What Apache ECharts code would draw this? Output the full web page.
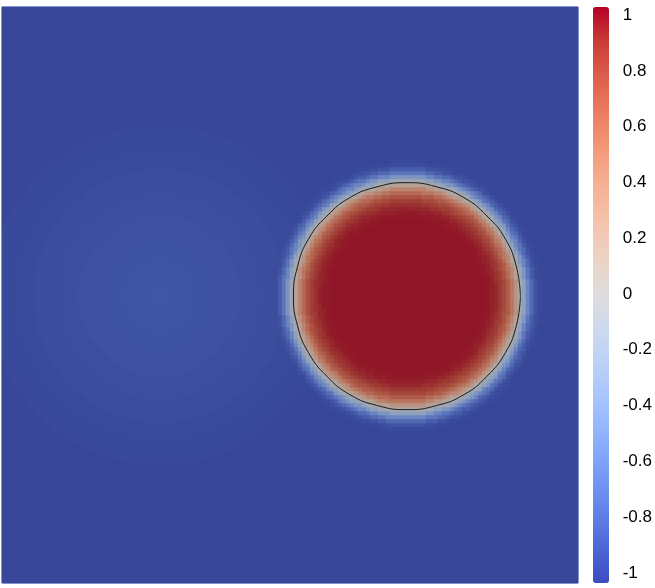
<!DOCTYPE html>
<html>
<head>
<meta charset="utf-8">
<script src="https://cdn.jsdelivr.net/npm/echarts@6/dist/echarts.min.js"></script>
<style>
  html, body { margin: 0; padding: 0; background: #fff; }
  #chart { width: 655px; height: 588px; }
</style>
</head>
<body>
<div id="chart"></div>
<script>
// field (domain is the unit square, y up)
const dropCenter = [0.703, 0.498];
const dropRadius = 0.197;
// signed distance from the droplet contour (negative = inside) and value there
const dropOffset = [-0.066, -0.055, -0.048, -0.043, -0.038, -0.035, -0.031, -0.028, -0.024, -0.021, -0.017, -0.014, -0.010, -0.007, -0.0035, 0, 0.0035, 0.007, 0.010, 0.014, 0.017, 0.021, 0.024, 0.028, 0.031, 0.035, 0.042];
const dropValue = [1.0, 0.99, 0.97, 0.95, 0.92, 0.89, 0.86, 0.81, 0.76, 0.70, 0.62, 0.53, 0.42, 0.30, 0.15, 0, -0.10, -0.25, -0.40, -0.55, -0.68, -0.78, -0.86, -0.92, -0.96, -0.98, -1.0];
// faint lighter patch on the left
const blobCenter = [0.275, 0.5];
const blobDist = [0, 0.04, 0.08, 0.12, 0.16, 0.20, 0.24, 0.28, 0.31];
const blobValue = [-0.91, -0.915, -0.922, -0.932, -0.945, -0.958, -0.972, -0.986, -1.0];
// contour line at 0
const contourX = [0.900, 0.893, 0.874, 0.842, 0.802, 0.754, 0.703, 0.652, 0.604, 0.564, 0.532, 0.513, 0.506, 0.513, 0.532, 0.564, 0.604, 0.652, 0.703, 0.754, 0.802, 0.842, 0.874, 0.893, 0.900];
const contourY = [0.498, 0.549, 0.597, 0.637, 0.669, 0.688, 0.695, 0.688, 0.669, 0.637, 0.597, 0.549, 0.498, 0.447, 0.400, 0.359, 0.327, 0.308, 0.301, 0.308, 0.327, 0.359, 0.400, 0.447, 0.498];
// colour bar
const rangeMin = -1.036;
const rangeMax = 1.029;
const tickValues = [-1, -0.8, -0.6, -0.4, -0.2, 0, 0.2, 0.4, 0.6, 0.8, 1];

// cool to warm
const coolWarm = [
  [59,76,192],[77,104,215],[98,130,234],[119,154,247],[141,176,254],[163,194,255],
  [184,208,249],[204,217,238],[221,221,221],[236,211,197],[245,196,173],[247,177,148],
  [244,154,123],[236,127,99],[222,96,77],[203,62,56],[180,4,38]
];
// surface looks lit/darker than the bar
const toCss = (c, k, a) => 'rgb(' + c.map(v => Math.round(v * k + a)).join(',') + ')';

function nearest(xs, ys, v) {
  if (v <= xs[0]) return ys[0];
  if (v >= xs[xs.length - 1]) return ys[ys.length - 1];
  let best = 0;
  for (let i = 1; i < xs.length; i++) {
    if (Math.abs(xs[i] - v) < Math.abs(xs[best] - v)) best = i;
  }
  return ys[best];
}

const N = 144;
const cats = [];
for (let i = 0; i < N; i++) cats.push(i);
const cells = [];
for (let i = 0; i < N; i++) {
  for (let j = 0; j < N; j++) {
    const x = (i + 0.5) / N, y = (j + 0.5) / N;
    const s = Math.hypot(x - dropCenter[0], y - dropCenter[1]) - dropRadius;
    const r = Math.hypot(x - blobCenter[0], y - blobCenter[1]);
    cells.push([i, j, Math.max(nearest(dropOffset, dropValue, s), nearest(blobDist, blobValue, r))]);
  }
}
const contour = contourX.map((x, i) => [x, contourY[i]]);

let chart = echarts.init(document.getElementById('chart'));
let option = {
  animation: false,
  grid: [
    { left: 2, top: 7, width: 576, height: 576, show: true, borderColor: '#4b5cc6', borderWidth: 1 },
    { left: 2, top: 7, width: 576, height: 576 },
    { left: 593, top: 7, width: 16, height: 576 }
  ],
  xAxis: [
    { type: 'category', gridIndex: 0, data: cats, show: false },
    { type: 'value', gridIndex: 1, min: 0, max: 1, show: false },
    { type: 'value', gridIndex: 2, min: 0, max: 1, show: false }
  ],
  yAxis: [
    { type: 'category', gridIndex: 0, data: cats, show: false },
    { type: 'value', gridIndex: 1, min: 0, max: 1, show: false },
    {
      type: 'value', gridIndex: 2, min: rangeMin, max: rangeMax,
      position: 'right', offset: -3,
      splitLine: { show: false },
      axisLine: { show: false },
      axisTick: { show: true, length: 12, customValues: tickValues, lineStyle: { color: '#000', width: 1 } },
      axisLabel: {
        customValues: tickValues, margin: 17, color: '#000', fontSize: 17,
        fontFamily: 'Liberation Sans',
        formatter: v => String(v)
      }
    }
  ],
  visualMap: [
    {
      type: 'continuous', show: false, seriesIndex: 0, dimension: 2,
      min: rangeMin, max: rangeMax,
      inRange: { color: coolWarm.map(c => toCss(c, 0.72, 10)) }
    },
    {
      type: 'continuous', show: true, seriesIndex: 2,
      min: rangeMin, max: rangeMax, calculable: false, hoverLink: false,
      left: 593, top: 7, padding: 0, itemWidth: 16, itemHeight: 576,
      text: null, showLabel: false,
      inRange: { color: coolWarm.map(c => toCss(c, 1, 0)) }
    }
  ],
  series: [
    {
      type: 'heatmap', xAxisIndex: 0, yAxisIndex: 0, data: cells,
      progressive: 0, emphasis: { disabled: true }
    },
    {
      type: 'line', xAxisIndex: 1, yAxisIndex: 1, data: contour,
      smooth: true, symbol: 'none', silent: true,
      lineStyle: { color: '#1a1a1a', width: 1 }
    },
    { type: 'scatter', xAxisIndex: 2, yAxisIndex: 2, data: [] }
  ]
};
chart.setOption(option);
</script>
</body>
</html>
